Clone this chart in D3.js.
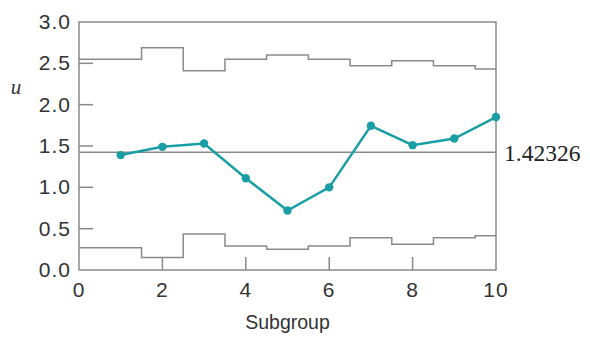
<!DOCTYPE html>
<html>
<head>
<meta charset="utf-8">
<script src="https://cdn.jsdelivr.net/npm/d3@7"></script>
<style>
  body { margin: 0; background: #fff; }
  .tick-label { font-family: "Liberation Sans", Arial, sans-serif; font-size: 21px; fill: #333; letter-spacing: 1px; }
</style>
</head>
<body>
<div id="chart"></div>
<script>
// subgroup values (u)
var subgroups = [1, 2, 3, 4, 5, 6, 7, 8, 9, 10];
var uValues = [1.39, 1.49, 1.53, 1.11, 0.72, 1.0, 1.745, 1.51, 1.59, 1.85];
var centerLine = 1.42326;
// step limits for each subgroup (from i-0.5 to i+0.5)
var ucl = [2.55, 2.69, 2.41, 2.55, 2.60, 2.55, 2.47, 2.53, 2.47, 2.43];
var lcl = [0.27, 0.15, 0.435, 0.29, 0.25, 0.29, 0.39, 0.31, 0.39, 0.415];
var yTicks = [0, 0.5, 1.0, 1.5, 2.0, 2.5, 3.0];
var xTicks = [0, 2, 4, 6, 8, 10];

(function () {
  var w = 590, h = 338;
  var plotLeft = 79, plotRight = 496, plotTop = 22, plotBottom = 270;
  var gray = '#8a8a8a';
  var teal = '#1a9ea6';

  var svg = d3.select('#chart').append('svg')
    .attr('width', w).attr('height', h);

  var x = d3.scaleLinear().domain([0, 10]).range([plotLeft, plotRight]);
  var y = d3.scaleLinear().domain([0, 3]).range([plotBottom, plotTop]);

  // frame
  svg.append('rect')
    .attr('x', plotLeft).attr('y', plotTop)
    .attr('width', plotRight - plotLeft).attr('height', plotBottom - plotTop)
    .attr('fill', 'none').attr('stroke', gray).attr('stroke-width', 1.5);

  // inside ticks
  svg.selectAll('line.ytick')
    .data(yTicks.filter(function (d) { return d > 0 && d < 3; })).enter()
    .append('line').attr('class', 'ytick')
    .attr('x1', plotLeft).attr('x2', plotLeft + 14)
    .attr('y1', function (d) { return y(d); })
    .attr('y2', function (d) { return y(d); })
    .attr('stroke', gray).attr('stroke-width', 1.5);

  svg.selectAll('line.xtick')
    .data(xTicks.filter(function (d) { return d > 0 && d < 10; })).enter()
    .append('line').attr('class', 'xtick')
    .attr('x1', function (d) { return x(d); })
    .attr('x2', function (d) { return x(d); })
    .attr('y1', plotBottom).attr('y2', plotBottom - 13)
    .attr('stroke', gray).attr('stroke-width', 1.5);

  // tick labels
  svg.selectAll('text.ylab')
    .data(yTicks).enter()
    .append('text').attr('class', 'tick-label')
    .attr('x', plotLeft - 8)
    .attr('y', function (d) { return y(d) + 7; })
    .attr('text-anchor', 'end')
    .text(function (d) { return d.toFixed(1); });

  svg.selectAll('text.xlab')
    .data(xTicks).enter()
    .append('text').attr('class', 'tick-label')
    .attr('x', function (d) { return x(d); })
    .attr('y', plotBottom + 27)
    .attr('text-anchor', 'middle')
    .text(function (d) { return d; });

  // step limit lines, outer steps run to the frame
  function stepPoints(vals) {
    var pts = [];
    vals.forEach(function (v, i) {
      var a = i === 0 ? 0 : subgroups[i] - 0.5;
      var b = i === vals.length - 1 ? 10 : subgroups[i] + 0.5;
      pts.push([a, v], [b, v]);
    });
    return pts;
  }
  var line = d3.line()
    .x(function (d) { return x(d[0]); })
    .y(function (d) { return y(d[1]); });

  [ucl, lcl].forEach(function (lim) {
    svg.append('path')
      .attr('d', line(stepPoints(lim)))
      .attr('fill', 'none').attr('stroke', gray).attr('stroke-width', 1.5);
  });

  // center line
  svg.append('line')
    .attr('x1', plotLeft).attr('x2', plotRight)
    .attr('y1', y(centerLine)).attr('y2', y(centerLine))
    .attr('stroke', gray).attr('stroke-width', 1.5);

  svg.append('text')
    .attr('x', plotRight + 8).attr('y', y(centerLine) + 9)
    .attr('font-family', '"Liberation Serif", "Times New Roman", serif')
    .attr('font-size', 23.5).attr('fill', '#222')
    .text(centerLine);

  // data
  var pts = subgroups.map(function (s, i) { return [s, uValues[i]]; });
  svg.append('path')
    .attr('d', line(pts))
    .attr('fill', 'none').attr('stroke', teal).attr('stroke-width', 2.5);
  svg.selectAll('circle.pt')
    .data(pts).enter()
    .append('circle').attr('class', 'pt')
    .attr('cx', function (d) { return x(d[0]); })
    .attr('cy', function (d) { return y(d[1]); })
    .attr('r', 4.2).attr('fill', teal);

  // axis titles
  svg.append('text')
    .attr('x', 16).attr('y', 94)
    .attr('text-anchor', 'middle')
    .attr('font-family', '"Liberation Serif", "Times New Roman", serif')
    .attr('font-style', 'italic').attr('font-size', 21).attr('fill', '#333')
    .text('u');

  svg.append('text')
    .attr('x', (plotLeft + plotRight) / 2).attr('y', 329)
    .attr('text-anchor', 'middle')
    .attr('font-family', '"Liberation Sans", Arial, sans-serif')
    .attr('font-size', 19.5).attr('fill', '#333')
    .text('Subgroup');
})();
</script>
</body>
</html>
